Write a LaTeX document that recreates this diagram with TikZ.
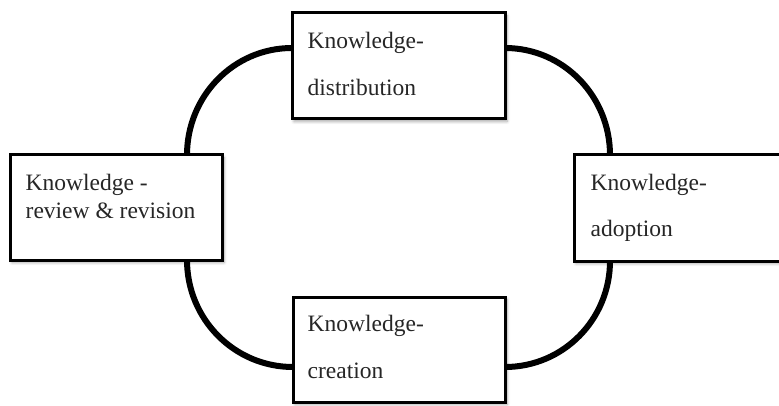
\documentclass[tikz,border=0pt]{standalone}
\usepackage{fontspec}
\setmainfont{Liberation Serif}
\usetikzlibrary{calc,shadows.blur}
\begin{document}
\begin{tikzpicture}[x=1pt,y=1pt,
  box/.style={draw=black,line width=3pt,fill=white,minimum width=212pt,minimum height=105pt,inner sep=0pt,
    blur shadow={shadow xshift=2pt,shadow yshift=-2.5pt,shadow blur steps=6,shadow opacity=35,shadow blur radius=3pt}},
  txt/.style={anchor=base west,inner sep=0pt,font=\fontsize{23.5}{26}\selectfont,text=black!85},
  link/.style={line width=6pt,line cap=butt}]
\useasboundingbox (0,0) rectangle (779,405);
\clip (0,0) rectangle (779,405);
% named connector end points
\coordinate (p1) at (187,250);
\coordinate (p2) at (292,357);
\coordinate (p3) at (505,357);
\coordinate (p4) at (610,250);
\coordinate (p5) at (187,145);
\coordinate (p6) at (293,38);
\coordinate (p7) at (505,38);
\coordinate (p8) at (610,144);
% connectors
\draw[link] (p1) to[out=90,in=180] (p2);
\draw[link] (p3) to[out=0,in=90] (p4);
\draw[link] (p5) to[out=-90,in=180] (p6);
\draw[link] (p7) to[out=0,in=-90] (p8);
% boxes
\node[box,minimum width=213pt,minimum height=106pt] (T) at (398.5,339) {};
\node[box] (L) at (116,197.5) {};
\node[box,minimum height=106pt] (R) at (680,197) {};
\node[box] (B) at (399,55.5) {};
% texts
\node[txt] (T1) at ($(T.north west)+(17,-37)$) {Knowledge-};
\node[txt] (T2) at ($(T.north west)+(17,-84)$) {distribution};
\node[txt] (L1) at ($(L.north west)+(17,-37)$) {Knowledge -};
\node[txt] (L2) at ($(L.north west)+(17,-65)$) {review \& revision};
\node[txt] (R1) at ($(R.north west)+(18,-37)$) {Knowledge-};
\node[txt] (R2) at ($(R.north west)+(18,-83)$) {adoption};
\node[txt] (B1) at ($(B.north west)+(16,-36)$) {Knowledge-};
\node[txt] (B2) at ($(B.north west)+(16,-83)$) {creation};
\end{tikzpicture}
\end{document}
